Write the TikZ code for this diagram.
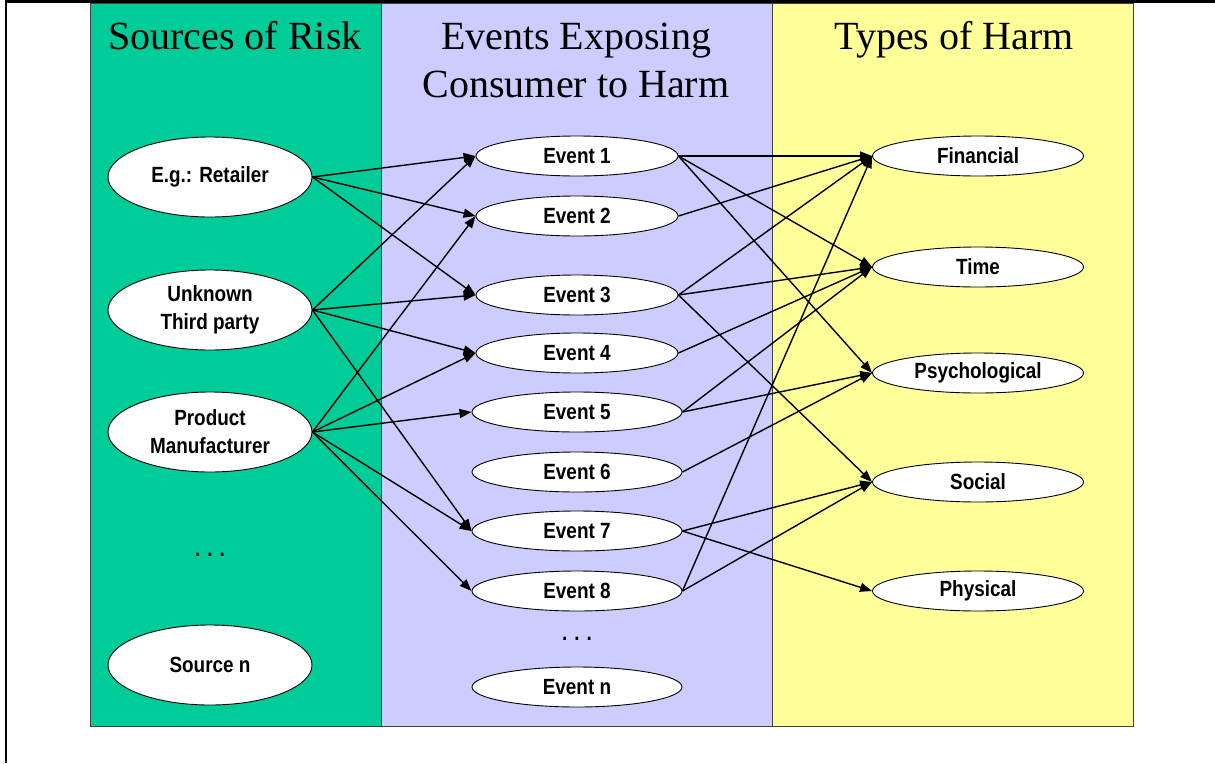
\documentclass[tikz,border=0pt]{standalone}
\usepackage{fontspec}
\setmainfont{Liberation Serif}
\newfontfamily\nodefont[FakeStretch=0.86]{Liberation Sans}
\usetikzlibrary{arrows.meta,shapes.geometric}
\definecolor{srcgreen}{RGB}{0,204,153}
\definecolor{evpurple}{RGB}{204,204,255}
\definecolor{harmyellow}{RGB}{255,255,153}
\tikzset{
  colbox/.style={draw=black!75, line width=1pt},
  oval/.style={ellipse, draw=black, line width=0.9pt, fill=white, inner sep=0pt,
    font=\nodefont\bfseries\fontsize{22}{28}\selectfont, align=center},
  srcoval/.style={oval, minimum width=204pt, minimum height=80pt},
  evoval/.style={oval, minimum width=202pt, minimum height=40pt},
  evwide/.style={oval, minimum width=210pt, minimum height=40pt},
  harmoval/.style={oval, minimum width=211pt, minimum height=40pt},
  dotsnode/.style={inner sep=0pt, anchor=base, font=\nodefont\bfseries\fontsize{22}{28}\selectfont},
  conn/.style={line width=1.4pt, -{Triangle[length=12pt,width=9pt]}},
  coltitle/.style={inner sep=0pt, anchor=base, font=\fontsize{40}{48}\selectfont}
}
\begin{document}
\begin{tikzpicture}[x=1pt,y=-1pt]
\useasboundingbox (0,0) rectangle (1215,763);
\fill[white] (0,0) rectangle (1215,763);
% columns
\fill[srcgreen] (90,3) rectangle (381,726);
\fill[evpurple] (381,3) rectangle (772,726);
\fill[harmyellow] (772,3) rectangle (1133,726);
\draw[colbox] (90,3) rectangle (381,726);
\draw[colbox] (381,3) rectangle (772,726);
\draw[colbox] (772,3) rectangle (1133,726);
% frame
\draw[line width=2pt] (6,763) -- (6,1.5);
\draw[line width=3pt] (5,1.5) -- (1215,1.5);
% titles
\node[coltitle] (t1) at (235,49) {Sources of Risk};
\node[coltitle] (t2a) at (576,49) {Events Exposing};
\node[coltitle] (t2b) at (576,97) {Consumer to Harm};
\node[coltitle] (t3) at (954,49) {Types of Harm};
% sources
\node[srcoval] (s1) at (210,177) {E.g.: Retailer};
\node[srcoval] (s2) at (210,310) {Unknown\\Third party};
\node[srcoval] (s3) at (210,432) {Product\\Manufacturer};
\node[dotsnode] (sd) at (210,556) {. . .};
\node[srcoval] (s4) at (210,665) {Source n};
% events
\node[evoval] (e1) at (577,156) {Event 1};
\node[evoval] (e2) at (577,216) {Event 2};
\node[evoval] (e3) at (577,295) {Event 3};
\node[evoval] (e4) at (577,353) {Event 4};
\node[evwide] (e5) at (577,412) {Event 5};
\node[evwide] (e6) at (577,472) {Event 6};
\node[evwide] (e7) at (577,531) {Event 7};
\node[evwide] (e8) at (577,591) {Event 8};
\node[dotsnode] (ed) at (577,640) {. . .};
\node[evwide] (en) at (577,687) {Event n};
% harms
\node[harmoval] (h1) at (978,156) {Financial};
\node[harmoval] (h2) at (978,267) {Time};
\node[harmoval] (h3) at (978,373) {Psychological};
\node[harmoval] (h4) at (978,482) {Social};
\node[harmoval] (h5) at (978,591) {Physical};
% sources -> events
\draw[conn] (s1.east) -- (e1.west);
\draw[conn] (s1.east) -- (e2.west);
\draw[conn] (s1.east) -- (e3.west);
\draw[conn] (s2.east) -- (e1.west);
\draw[conn] (s2.east) -- (e3.west);
\draw[conn] (s2.east) -- (e4.west);
\draw[conn] (s2.east) -- (e7.west);
\draw[conn] (s3.east) -- (e2.west);
\draw[conn] (s3.east) -- (e4.west);
\draw[conn] (s3.east) -- (e5.west);
\draw[conn] (s3.east) -- (e7.west);
\draw[conn] (s3.east) -- (e8.west);
% events -> harms
\draw[conn] (e1.east) -- (h1.west);
\draw[conn] (e1.east) -- (h2.west);
\draw[conn] (e1.east) -- (h3.west);
\draw[conn] (e2.east) -- (h1.west);
\draw[conn] (e3.east) -- (h1.west);
\draw[conn] (e3.east) -- (h2.west);
\draw[conn] (e3.east) -- (h4.west);
\draw[conn] (e4.east) -- (h2.west);
\draw[conn] (e5.east) -- (h2.west);
\draw[conn] (e5.east) -- (h3.west);
\draw[conn] (e6.east) -- (h3.west);
\draw[conn] (e7.east) -- (h4.west);
\draw[conn] (e7.east) -- (h5.west);
\draw[conn] (e8.east) -- (h1.west);
\draw[conn] (e8.east) -- (h4.west);
\end{tikzpicture}
\end{document}
